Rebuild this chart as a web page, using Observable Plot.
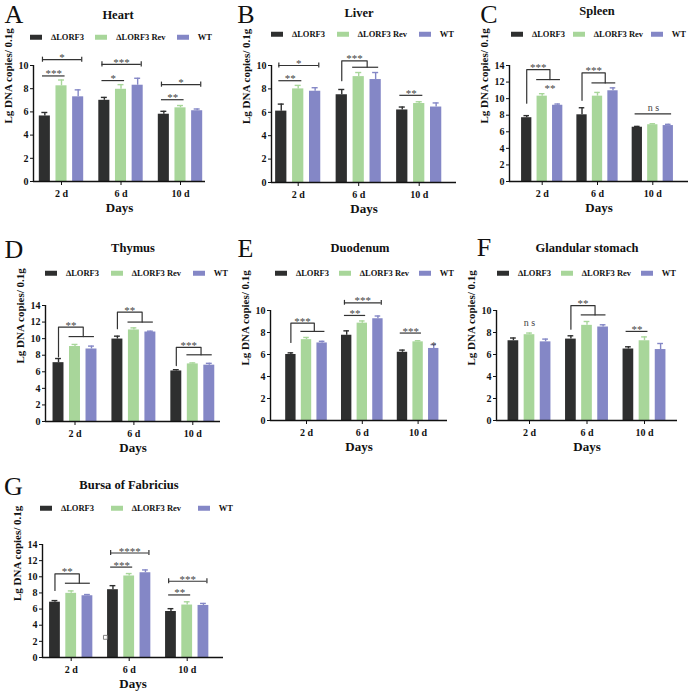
<!DOCTYPE html>
<html><head><meta charset="utf-8">
<script src="https://cdn.jsdelivr.net/npm/d3@7"></script>
<script src="https://cdn.jsdelivr.net/npm/@observablehq/plot@0.6"></script>
<style>
body{margin:0;background:#fff;}
#root{position:relative;width:696px;height:697px;overflow:hidden;font-family:"Liberation Serif","Times New Roman",serif;color:#111;}
.abs{position:absolute;white-space:nowrap;}
.letter{font-size:26px;transform:translate(-50%,-50%);line-height:1;}
.title{font-size:12.5px;font-weight:bold;transform:translate(-50%,-50%);line-height:1;}
.legend{display:flex;justify-content:space-between;align-items:center;font-size:8.5px;font-weight:bold;transform:translateY(-50%);line-height:1;}
.legend .item{display:flex;align-items:center;}
.legend .sw{display:inline-block;width:12px;height:5px;margin-right:9px;}
</style></head><body><div id="root"></div>
<script>
const days = ["2 d", "6 d", "10 d"];
const series = ["\u2206LORF3", "\u2206LORF3 Rev", "WT"];
const colors = ["#2e2f2f", "#a8d69a", "#8487c6"];
const yLabel = "Lg DNA copies/ 0.1g";
const xLabel = "Days";

// A Heart
const heartMean = [[5.65, 8.25, 7.3], [7.0, 7.95, 8.3], [5.8, 6.35, 6.1]];
const heartErr = [[0.3, 0.5, 0.6], [0.25, 0.4, 0.6], [0.25, 0.2, 0.15]];
const heartLines = [
  {day: 0, a: 0, b: 2, y: 10.5, label: "*", cap: true},
  {day: 0, a: 0, b: 1, y: 9.1, label: "***"},
  {day: 1, a: 0, b: 2, y: 10.1, label: "***", cap: true},
  {day: 1, a: 0, b: 1, y: 8.7, label: "*"},
  {day: 2, a: 0, b: 2, y: 8.35, label: "*", cap: true},
  {day: 2, a: 0, b: 1, y: 7.05, label: "**"}
];
const heartBrackets = [];
const heartTexts = [];

// B Liver
const liverMean = [[6.1, 8.0, 7.8], [7.5, 9.05, 8.8], [6.2, 6.75, 6.45]];
const liverErr = [[0.6, 0.3, 0.3], [0.45, 0.35, 0.6], [0.25, 0.15, 0.35]];
const liverLines = [
  {day: 0, a: 0, b: 2, y: 10.0, label: "*", cap: true},
  {day: 0, a: 0, b: 1, y: 8.7, label: "**"},
  {day: 2, a: 0, b: 1, y: 7.45, label: "**"}
];
const liverBrackets = [{day: 1, y0: 8.7, y1: 10.4, y2: 9.85, label: "***"}];
const liverTexts = [];

// C Spleen
const spleenMean = [[7.7, 10.3, 9.2], [8.05, 10.3, 10.95], [6.55, 6.85, 6.75]];
const spleenErr = [[0.25, 0.3, 0.15], [0.85, 0.45, 0.35], [0.1, 0.12, 0.15]];
const spleenLines = [{day: 2, a: 0, b: 2, y: 8.15, label: "n s"}];
const spleenBrackets = [
  {day: 0, y0: 9.45, y1: 13.5, y2: 12.3, label: "***"},
  {day: 1, y0: 9.8, y1: 13.1, y2: 11.9, label: "***"}
];
const spleenTexts = [{day: 0, at: 1.5, y: 11.5, label: "**"}];

// D Thymus
const thymusMean = [[7.1, 9.05, 8.75], [9.95, 11.05, 10.8], [6.1, 6.95, 6.8]];
const thymusErr = [[0.5, 0.25, 0.35], [0.35, 0.25, 0.1], [0.15, 0.12, 0.22]];
const thymusLines = [];
const thymusBrackets = [
  {day: 0, y0: 7.8, y1: 11.4, y2: 10.25, label: "**"},
  {day: 1, y0: 11.2, y1: 13.2, y2: 12.0, label: "**"},
  {day: 2, y0: 6.75, y1: 8.95, y2: 8.05, label: "***"}
];
const thymusTexts = [];

// E Duodenum
const duodenumMean = [[6.0, 7.35, 7.05], [7.75, 8.85, 9.25], [6.2, 7.15, 6.55]];
const duodenumErr = [[0.15, 0.2, 0.15], [0.4, 0.2, 0.25], [0.2, 0.1, 0.35]];
const duodenumLines = [
  {day: 1, a: 0, b: 2, y: 10.7, label: "***", cap: true},
  {day: 1, a: 0, b: 1, y: 9.55, label: "**"},
  {day: 2, a: 0, b: 1, y: 7.95, label: "***"}
];
const duodenumBrackets = [{day: 0, y0: 7.1, y1: 8.85, y2: 8.1, label: "***"}];
const duodenumTexts = [{day: 2, at: 2, y: 7.05, label: "*"}];

// F Glandular stomach
const stomachMean = [[7.25, 7.8, 7.15], [7.4, 8.65, 8.5], [6.5, 7.25, 6.45]];
const stomachErr = [[0.25, 0.15, 0.25], [0.3, 0.35, 0.2], [0.2, 0.35, 0.55]];
const stomachLines = [{day: 2, a: 0, b: 1, y: 8.1, label: "**"}];
const stomachBrackets = [{day: 1, y0: 8.3, y1: 10.45, y2: 9.6, label: "**"}];
const stomachTexts = [{day: 0, at: 1, y: 8.85, label: "n s"}];

// G Bursa of Fabricius
const bursaMean = [[6.85, 7.95, 7.65], [8.4, 10.1, 10.5], [5.7, 6.5, 6.45]];
const bursaErr = [[0.2, 0.3, 0.15], [0.5, 0.3, 0.35], [0.35, 0.4, 0.25]];
const bursaLines = [
  {day: 1, a: 0, b: 2, y: 12.95, label: "****", cap: true},
  {day: 1, a: 0, b: 1, y: 11.2, label: "***"},
  {day: 2, a: 0, b: 2, y: 9.45, label: "***", cap: true},
  {day: 2, a: 0, b: 1, y: 7.75, label: "**"}
];
const bursaBrackets = [{day: 0, y0: 8.3, y1: 10.35, y2: 9.2, label: "**"}];
const bursaTexts = [];
const bursaSpeck = [{x: 0.59, y: 2.5}];

// layout (pixel geometry of each panel)
const panels = [
  {letter: "A", title: "Heart", mean: heartMean, err: heartErr, lines: heartLines, brackets: heartBrackets, texts: heartTexts, ymax: 10,
   px: 0, L: 33, R: 205, c0: 61, s: 59.5, y0: 180.7, yTop: 65, lp: [14, 14.5], tp: [118, 15], lg: [30, 212, 37]},
  {letter: "B", title: "Liver", mean: liverMean, err: liverErr, lines: liverLines, brackets: liverBrackets, texts: liverTexts, ymax: 10,
   px: 232, L: 271, R: 456, c0: 297.7, s: 60.5, y0: 181.7, yTop: 65, lp: [246, 14.5], tp: [359, 13], lg: [271, 454, 34]},
  {letter: "C", title: "Spleen", mean: spleenMean, err: spleenErr, lines: spleenLines, brackets: spleenBrackets, texts: spleenTexts, ymax: 14,
   px: 464, L: 509, R: 688, c0: 541.7, s: 55.3, y0: 180.7, yTop: 65, lp: [489, 15], tp: [597, 10.5], lg: [511, 686, 34]},
  {letter: "D", title: "Thymus", mean: thymusMean, err: thymusErr, lines: thymusLines, brackets: thymusBrackets, texts: thymusTexts, ymax: 14,
   px: 0, L: 45, R: 220, c0: 74.5, s: 58.9, y0: 421, yTop: 305, lp: [14, 250], tp: [133, 248], lg: [45, 228, 273]},
  {letter: "E", title: "Duodenum", mean: duodenumMean, err: duodenumErr, lines: duodenumLines, brackets: duodenumBrackets, texts: duodenumTexts, ymax: 10,
   px: 232, L: 270, R: 447, c0: 306, s: 55.8, y0: 420, yTop: 310, lp: [245.5, 249], tp: [360, 248], lg: [275, 454, 273]},
  {letter: "F", title: "Glandular stomach", mean: stomachMean, err: stomachErr, lines: stomachLines, brackets: stomachBrackets, texts: stomachTexts, ymax: 10,
   px: 464, L: 496, R: 677, c0: 529, s: 57.5, y0: 420, yTop: 310, lp: [484, 248], tp: [587, 248], lg: [497, 676, 273]},
  {letter: "G", title: "Bursa of Fabricius", mean: bursaMean, err: bursaErr, lines: bursaLines, brackets: bursaBrackets, texts: bursaTexts, ymax: 14, speck: bursaSpeck,
   px: 0, L: 42, R: 223, c0: 70.7, s: 58, y0: 657, yTop: 544, lp: [13.5, 487], tp: [129, 485], lg: [40, 233, 508]}
];

const root = document.getElementById("root");
const OFF = 0.28, HW = 0.093, CAP = 0.05;
const xc = (day, s) => day + (s - 1) * OFF;
const SIG = "#333", STAR = "#444";

function makePanel(p) {
  const rows = p.mean.flatMap((r, i) => r.map((v, j) => ({day: i, s: j, mean: v, err: p.err[i][j]})));
  const lo = (p.L - p.c0) / p.s, hi = (p.R - p.c0) / p.s;
  const svgLeft = p.px, svgTop = p.yTop - 34;
  const marginLeft = p.L - svgLeft, marginTop = p.yTop - svgTop, marginBottom = 42, marginRight = 3;
  const width = p.R - svgLeft + marginRight;
  const height = Math.round(p.y0 - svgTop + marginBottom);
  const capH = p.ymax * 0.022;
  const lx1 = d => xc(d.day, d.a) - 0.04, lx2 = d => xc(d.day, d.b) + 0.06;
  const caps = p.lines.filter(d => d.cap).flatMap(d => [{x: lx1(d), y: d.y}, {x: lx2(d), y: d.y}]);
  const mid = d => (xc(d.day, 1) + xc(d.day, 2)) / 2;
  const bracketPts = p.brackets.flatMap((d, k) => [
    {k, x: xc(d.day, 0), y: d.y0}, {k, x: xc(d.day, 0), y: d.y1}, {k, x: mid(d), y: d.y1}, {k, x: mid(d), y: d.y2}
  ]);
  const isStar = d => d.label.startsWith("*");
  const svg = Plot.plot({
    width, height, marginLeft, marginRight, marginTop, marginBottom,
    style: {fontFamily: "'Liberation Serif', serif", fontSize: "10px", fontWeight: "bold", background: "transparent", overflow: "visible", color: "#111"},
    x: {domain: [lo, hi], ticks: [0, 1, 2], tickFormat: i => days[i], tickSize: 4, tickPadding: 4, label: null},
    y: {domain: [0, p.ymax], ticks: d3.range(0, p.ymax + 1, 2), tickSize: 3, tickPadding: 2, label: null},
    color: {domain: series, range: colors},
    marks: [
      Plot.rectY(rows, {x1: d => xc(d.day, d.s) - HW, x2: d => xc(d.day, d.s) + HW, y: "mean", fill: d => series[d.s]}),
      Plot.ruleX(rows, {x: d => xc(d.day, d.s), y1: "mean", y2: d => d.mean + d.err, stroke: d => series[d.s], strokeWidth: 1.4}),
      Plot.ruleY(rows, {y: d => d.mean + d.err, x1: d => xc(d.day, d.s) - CAP, x2: d => xc(d.day, d.s) + CAP, stroke: d => series[d.s], strokeWidth: 1.4}),
      Plot.ruleY([0], {strokeWidth: 1.4}),
      Plot.ruleX([lo], {strokeWidth: 1.4}),
      Plot.ruleY(p.lines, {y: "y", x1: lx1, x2: lx2, stroke: SIG, strokeWidth: 1.2}),
      Plot.ruleX(caps, {x: "x", y1: d => d.y - capH, y2: d => d.y + capH, stroke: SIG, strokeWidth: 1.2}),
      Plot.line(bracketPts, {x: "x", y: "y", z: "k", stroke: SIG, strokeWidth: 1.2}),
      Plot.ruleY(p.brackets, {y: "y2", x1: d => xc(d.day, 1) - 0.1, x2: d => xc(d.day, 2) + 0.05, stroke: SIG, strokeWidth: 1.2}),
      Plot.text(p.lines.filter(isStar), {x: d => (lx1(d) + lx2(d)) / 2, y: "y", text: "label", dy: -2, fill: STAR, fontSize: 11, fontWeight: "normal"}),
      Plot.text(p.lines.filter(d => !isStar(d)), {x: d => (lx1(d) + lx2(d)) / 2, y: "y", text: "label", dy: -6, fill: STAR, fontSize: 10, fontWeight: "normal"}),
      Plot.text(p.brackets, {x: d => (xc(d.day, 0) + mid(d)) / 2, y: "y1", text: "label", dy: -2, fill: STAR, fontSize: 11, fontWeight: "normal"}),
      Plot.text(p.texts.filter(isStar), {x: d => xc(d.day, d.at), y: "y", text: "label", dy: 2.5, fill: STAR, fontSize: 11, fontWeight: "normal"}),
      Plot.text(p.texts.filter(d => !isStar(d)), {x: d => xc(d.day, d.at), y: "y", text: "label", fill: STAR, fontSize: 10, fontWeight: "normal"}),
      Plot.dot(p.speck || [], {x: "x", y: "y", symbol: "square", r: 2.2, stroke: "#666", fill: "white", strokeWidth: 0.8}),
      Plot.text([yLabel], {text: d => d, frameAnchor: "left", rotate: -90, dx: -25, fontSize: 11, fontWeight: "bold"}),
      Plot.text([xLabel], {text: d => d, frameAnchor: "bottom", dy: 30, fontSize: 13, fontWeight: "bold"})
    ]
  });
  const holder = document.createElement("div");
  holder.className = "abs";
  holder.style.left = svgLeft + "px";
  holder.style.top = svgTop + "px";
  holder.appendChild(svg);
  root.appendChild(holder);
}

function makeText(p) {
  const letter = document.createElement("div");
  letter.className = "abs letter";
  letter.style.left = p.lp[0] + "px"; letter.style.top = p.lp[1] + "px";
  letter.textContent = p.letter;
  root.appendChild(letter);
  const title = document.createElement("div");
  title.className = "abs title";
  title.style.left = p.tp[0] + "px"; title.style.top = p.tp[1] + "px";
  title.textContent = p.title;
  root.appendChild(title);
  const lg = document.createElement("div");
  lg.className = "abs legend";
  lg.style.left = p.lg[0] + "px"; lg.style.top = p.lg[2] + "px"; lg.style.width = (p.lg[1] - p.lg[0]) + "px";
  series.forEach((s, i) => {
    const item = document.createElement("span");
    item.className = "item";
    const sw = document.createElement("span");
    sw.className = "sw"; sw.style.background = colors[i];
    item.appendChild(sw);
    item.appendChild(document.createTextNode(s));
    lg.appendChild(item);
  });
  root.appendChild(lg);
}

panels.forEach(makePanel);
panels.forEach(makeText);
</script>
</body></html>
